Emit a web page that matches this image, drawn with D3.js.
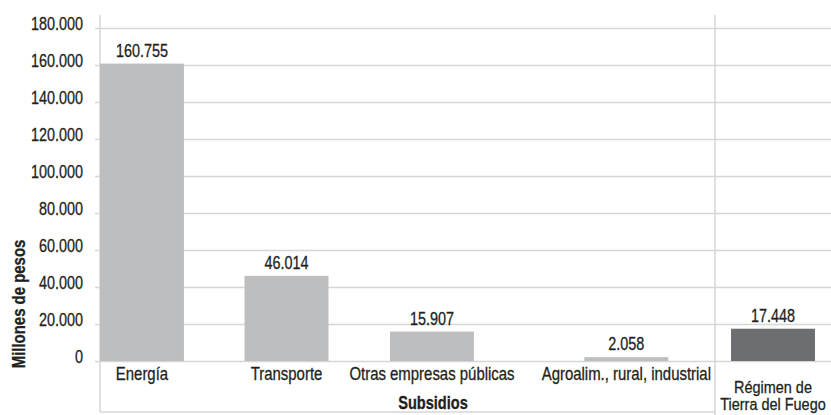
<!DOCTYPE html>
<html>
<head>
<meta charset="utf-8">
<script src="https://cdn.jsdelivr.net/npm/d3@7"></script>
<style>
  body { margin: 0; background: #fff; }
  text { font-family: "Liberation Sans", Arial, sans-serif; fill: #231f20; stroke: #231f20; stroke-width: 0.3px; }
</style>
</head>
<body>
<div id="chart"></div>
<script>
// data
var categories = ["Energía", "Transporte", "Otras empresas públicas", "Agroalim., rural, industrial"];
var values = [160755, 46014, 15907, 2058];
var valueLabels = ["160.755", "46.014", "15.907", "2.058"];
var extraCategory = ["Régimen de", "Tierra del Fuego"];
var extraValue = [17448];
var extraLabel = ["17.448"];
var yTicks = [0, 20000, 40000, 60000, 80000, 100000, 120000, 140000, 160000, 180000];
var yTickLabels = ["0", "20.000", "40.000", "60.000", "80.000", "100.000", "120.000", "140.000", "160.000", "180.000"];

var width = 831, height = 415;
var left = 100, split = 715, right = 831;
var top0 = 28, base = 361, frameTop = 15, frameBottom = 412;
// no narrow font installed, so squeeze Liberation Sans
var numSqueeze = 0.8, wordSqueeze = 0.83;

var svg = d3.select("#chart")
  .append("svg")
  .attr("width", width)
  .attr("height", height);

// move x/y into a transform and squeeze the glyphs horizontally
function condense(sel, k) {
  sel.each(function () {
    var t = d3.select(this);
    var tx = +t.attr("x") || 0, ty = +t.attr("y") || 0;
    var tr = t.attr("transform") || "";
    t.attr("x", 0).attr("y", 0)
      .attr("transform", tr + " translate(" + tx + "," + ty + ") scale(" + k + ",1)");
  });
}

var y = d3.scaleLinear()
  .domain([0, 180000])
  .range([base, top0]);

// grid + y ticks
var yAxis = svg.append("g")
  .attr("transform", "translate(" + left + ",0)")
  .call(d3.axisLeft(y)
    .tickValues(yTicks)
    .tickFormat(function (d, i) { return yTickLabels[i]; })
    .tickSize(-(right - left))
    .tickPadding(17));

yAxis.select(".domain").remove();
yAxis.selectAll(".tick line")
  .attr("x1", -5)
  .attr("stroke", "#d6d6d6")
  .attr("stroke-width", 1.4);
yAxis.selectAll(".tick text")
  .attr("dy", "0.1em")
  .attr("fill", "#231f20")
  .style("font-family", "'Liberation Sans', Arial, sans-serif")
  .style("font-size", "18px")
  .call(condense, numSqueeze);

// frame lines
svg.append("line")
  .attr("x1", left).attr("x2", left)
  .attr("y1", frameTop).attr("y2", frameBottom)
  .attr("stroke", "#d6d6d6").attr("stroke-width", 1.5);
svg.append("line")
  .attr("x1", left).attr("x2", split)
  .attr("y1", frameBottom).attr("y2", frameBottom)
  .attr("stroke", "#d6d6d6").attr("stroke-width", 1.5);
svg.append("line")
  .attr("x1", split).attr("x2", split)
  .attr("y1", frameTop).attr("y2", height)
  .attr("stroke", "#d6d6d6").attr("stroke-width", 1.5);

// band scale gives the starting slot of each category
var band = d3.scaleBand()
  .domain(categories)
  .range([left, split])
  .paddingInner(0.454)
  .paddingOuter(0.227)
  .align(0);

// category labels
var catText = svg.append("g")
  .selectAll("text")
  .data(categories)
  .enter()
  .append("text")
  .attr("text-anchor", "middle")
  .style("font-size", "18px")
  .text(d => d);

// spread the labels so they do not collide, bars follow them
var gap = 27;
var nodes = categories.map(function (c, i) {
  return {
    c: band(c) + band.bandwidth() / 2,
    w: catText.nodes()[i].getComputedTextLength() * wordSqueeze
  };
});
for (var it = 0; it < 80; it++) {
  for (var i = 0; i < nodes.length - 1; i++) {
    var a = nodes[i], b = nodes[i + 1];
    var over = (a.c + a.w / 2 + gap) - (b.c - b.w / 2);
    if (over > 0) { a.c -= over / 2; b.c += over / 2; }
  }
  nodes.forEach(function (n) {
    n.c = Math.max(left + 4 + n.w / 2, Math.min(split - 4 - n.w / 2, n.c));
  });
}
var x = d3.scaleOrdinal()
  .domain(categories)
  .range(nodes.map(n => n.c));

catText.attr("x", d => x(d)).attr("y", 380).call(condense, wordSqueeze);

var bw = band.bandwidth();

svg.append("g")
  .selectAll("rect")
  .data(values)
  .enter()
  .append("rect")
  .attr("x", (d, i) => x(categories[i]) - bw / 2)
  .attr("y", d => y(d))
  .attr("width", bw)
  .attr("height", d => base - y(d))
  .attr("fill", "#bcbec0");

svg.append("g")
  .selectAll("text")
  .data(values)
  .enter()
  .append("text")
  .attr("x", (d, i) => x(categories[i]))
  .attr("y", d => y(d) - 7)
  .attr("text-anchor", "middle")
  .style("font-size", "18px")
  .text((d, i) => valueLabels[i])
  .call(condense, numSqueeze);

// right section
var extraName = extraCategory.join(" ");
var x2 = d3.scaleBand()
  .domain([extraName])
  .range([split, right])
  .paddingInner(0)
  .paddingOuter(((right - split) / bw - 1) / 2);

svg.append("g")
  .selectAll("rect")
  .data(extraValue)
  .enter()
  .append("rect")
  .attr("x", x2(extraName))
  .attr("y", d => y(d))
  .attr("width", x2.bandwidth())
  .attr("height", d => base - y(d))
  .attr("fill", "#6d6e71");

svg.append("g")
  .selectAll("text")
  .data(extraValue)
  .enter()
  .append("text")
  .attr("x", x2(extraName) + x2.bandwidth() / 2)
  .attr("y", d => y(d) - 7)
  .attr("text-anchor", "middle")
  .style("font-size", "18px")
  .text((d, i) => extraLabel[i])
  .call(condense, numSqueeze);

svg.append("g")
  .selectAll("text")
  .data(extraCategory)
  .enter()
  .append("text")
  .attr("x", x2(extraName) + x2.bandwidth() / 2)
  .attr("y", (d, i) => 393 + i * 17)
  .attr("text-anchor", "middle")
  .style("font-size", "17px")
  .text(d => d)
  .call(condense, 0.85);

// axis titles
svg.append("text")
  .attr("x", 433)
  .attr("y", 409)
  .attr("text-anchor", "middle")
  .style("font-size", "18px")
  .style("font-weight", "bold")
  .text("Subsidios")
  .call(condense, 0.81);

svg.append("text")
  .attr("transform", "translate(25,304) rotate(-90)")
  .attr("text-anchor", "middle")
  .style("font-size", "18px")
  .style("font-weight", "bold")
  .text("Millones de pesos")
  .call(condense, wordSqueeze);
</script>
</body>
</html>
